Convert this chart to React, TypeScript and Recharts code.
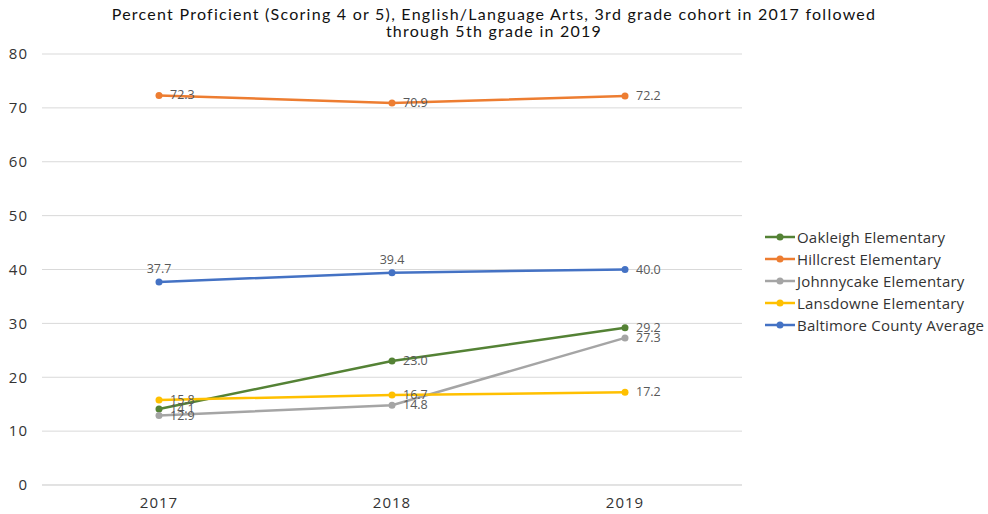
import * as React from 'react'
import { LineChart, Line, XAxis, YAxis, CartesianGrid, LabelList } from 'recharts'

const years = ['2017', '2018', '2019']
const oakleigh = [14.1, 23.0, 29.2]
const hillcrest = [72.3, 70.9, 72.2]
const johnnycake = [12.9, 14.8, 27.3]
const lansdowne = [15.8, 16.7, 17.2]
const baltimore = [37.7, 39.4, 40.0]
const yTicks = [0, 10, 20, 30, 40, 50, 60, 70, 80]

const series = [
    { key: 'oakleigh', name: 'Oakleigh Elementary', color: '#548235' },
    { key: 'hillcrest', name: 'Hillcrest Elementary', color: '#ED7D31' },
    { key: 'johnnycake', name: 'Johnnycake Elementary', color: '#A5A5A5' },
    { key: 'lansdowne', name: 'Lansdowne Elementary', color: '#FFC000' },
    { key: 'baltimore', name: 'Baltimore County Average', color: '#4472C4' },
]

const data = years.map((year, i) => ({
    year,
    oakleigh: oakleigh[i],
    hillcrest: hillcrest[i],
    johnnycake: johnnycake[i],
    lansdowne: lansdowne[i],
    baltimore: baltimore[i],
}))

const FONT = '"Open Sans", "Noto Sans", sans-serif'

// labels sit right of the point, except the first two county points (above)
const makeLabel = (above: boolean) => (props: any) => {
    const { x, y, value, index } = props
    const text = Number(value).toFixed(1)
    if (above && index < 2) {
        return (
            <text x={x} y={y - 9} textAnchor="middle" fontSize={12.5} fill="#595959" fontFamily={FONT}>
                {text}
            </text>
        )
    }
    return (
        <text x={x + 11} y={y + 4} fontSize={12.5} fill="#595959" fontFamily={FONT}>
            {text}
        </text>
    )
}

const LegendBox = () => (
    <div style={{ position: 'absolute', left: 765, top: 226, fontFamily: FONT, fontSize: 15, color: '#333' }}>
        {series.map(s => (
            <div key={s.key} style={{ display: 'flex', alignItems: 'center', height: 22 }}>
                <svg width={32} height={10}>
                    <line x1={0} y1={5} x2={30} y2={5} stroke={s.color} strokeWidth={2.5} />
                    <circle cx={15} cy={5} r={3.5} fill={s.color} />
                </svg>
                <span style={{ whiteSpace: 'nowrap', letterSpacing: 0.2 }}>{s.name}</span>
            </div>
        ))}
    </div>
)

export default function App() {
    return (
        <div style={{ position: 'absolute', left: 0, top: 0, width: 988, height: 514, background: '#fff' }}>
            <div style={{ position: 'absolute', left: 0, top: 5, width: 988, textAlign: 'center', fontFamily: 'Lato, sans-serif', fontSize: 16, letterSpacing: 1.25, lineHeight: '17px', color: '#111' }}>
                Percent Proficient (Scoring 4 or 5), English/Language Arts, 3rd grade cohort in 2017 followed
                <br />
                through 5th grade in 2019
            </div>
            <LineChart width={988} height={514} data={data} margin={{ top: 54, right: 246, bottom: 0, left: 0 }}>
                <CartesianGrid vertical={false} stroke="#d9d9d9" />
                <XAxis dataKey="year" axisLine={{ stroke: '#d9d9d9' }} tickLine={false} height={29}
                    padding={{ left: 117, right: 117 }}
                    tick={{ fontSize: 15, fill: '#333', fontFamily: FONT, letterSpacing: 1 }} tickMargin={6} />
                <YAxis domain={[0, 80]} ticks={yTicks} width={42} axisLine={false} tickLine={false} tickMargin={8}
                    tick={{ fontSize: 15, fill: '#333', fontFamily: FONT, letterSpacing: 1 }} />
                {series.map(s => (
                    <Line key={s.key} dataKey={s.key} name={s.name} stroke={s.color} strokeWidth={2.5}
                        dot={{ r: 3.5, fill: s.color, stroke: s.color, strokeWidth: 0 }} isAnimationActive={false}>
                        <LabelList dataKey={s.key} content={makeLabel(s.key === 'baltimore')} />
                    </Line>
                ))}
            </LineChart>
            <LegendBox />
        </div>
    )
}
